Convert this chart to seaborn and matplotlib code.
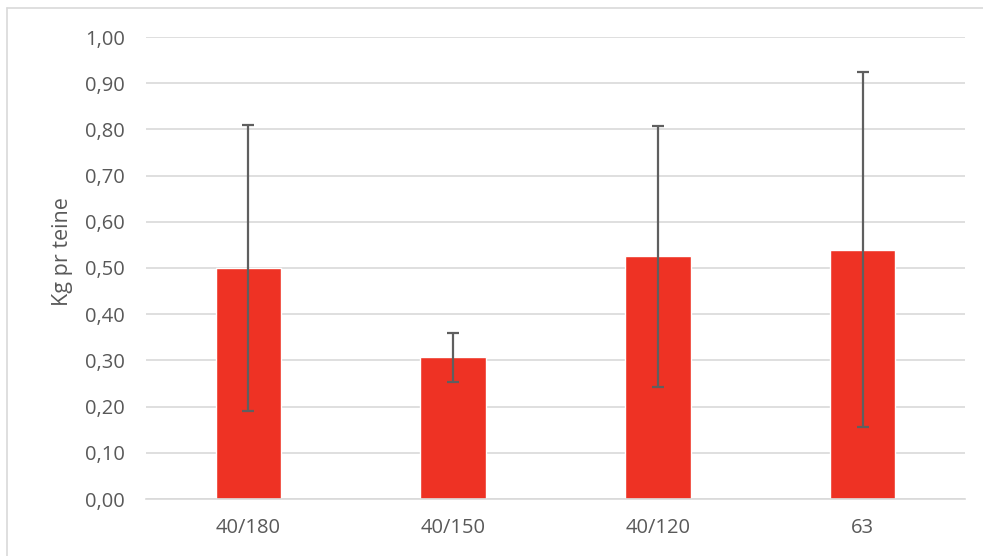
import matplotlib
matplotlib.use("Agg")
import matplotlib.pyplot as plt
import seaborn as sns
from matplotlib.lines import Line2D
from matplotlib.ticker import FuncFormatter, MultipleLocator

categories = ["40/180", "40/150", "40/120", "63"]
values = [0.50, 0.307, 0.525, 0.540]
errors = [0.31, 0.053, 0.282, 0.385]

sns.set_theme(style="white")
plt.rcParams["font.family"] = ["Open Sans", "DejaVu Sans"]

fig = plt.figure(figsize=(9.83, 5.56), dpi=100)
ax = fig.add_axes([146 / 983, 1 - 499 / 556, (965 - 146) / 983, (499 - 37) / 556])

sns.barplot(x=categories, y=values, color="#EE3224", saturation=1,
            width=0.32, errorbar=None, ax=ax, zorder=2)
ax.errorbar(x=range(len(categories)), y=values, yerr=errors, fmt="none",
            ecolor="#5f5f5f", elinewidth=1.6, capsize=4.3, capthick=1.6, zorder=3)

ax.set_xlim(-0.5, 3.5)
ax.set_ylim(0, 1.0)
ax.yaxis.set_major_locator(MultipleLocator(0.1))
ax.yaxis.set_major_formatter(FuncFormatter(lambda v, p: f"{v:.2f}".replace(".", ",")))
ax.grid(axis="y", color="#d9d9d9", linewidth=1.2, zorder=0)
ax.set_axisbelow(True)
for s in ["top", "right", "left"]:
    ax.spines[s].set_visible(False)
ax.spines["bottom"].set_color("#d9d9d9")
ax.spines["bottom"].set_linewidth(1.2)
ax.tick_params(axis="both", length=0, labelsize=14.5, labelcolor="#595959")
ax.tick_params(axis="y", pad=15)
ax.tick_params(axis="x", pad=14)
ax.set_ylabel("Kg pr teine", fontsize=15.5, color="#595959")
ax.yaxis.set_label_coords(-0.089, 0.535)
ax.set_xlabel("")

# chart frame (top and left edges visible)
fig.add_artist(Line2D([7 / 983, 1], [1 - 8 / 556, 1 - 8 / 556], color="#d9d9d9", lw=1.2))
fig.add_artist(Line2D([7 / 983, 7 / 983], [0, 1 - 8 / 556], color="#d9d9d9", lw=1.2))

fig.savefig("out.png", dpi=100)
